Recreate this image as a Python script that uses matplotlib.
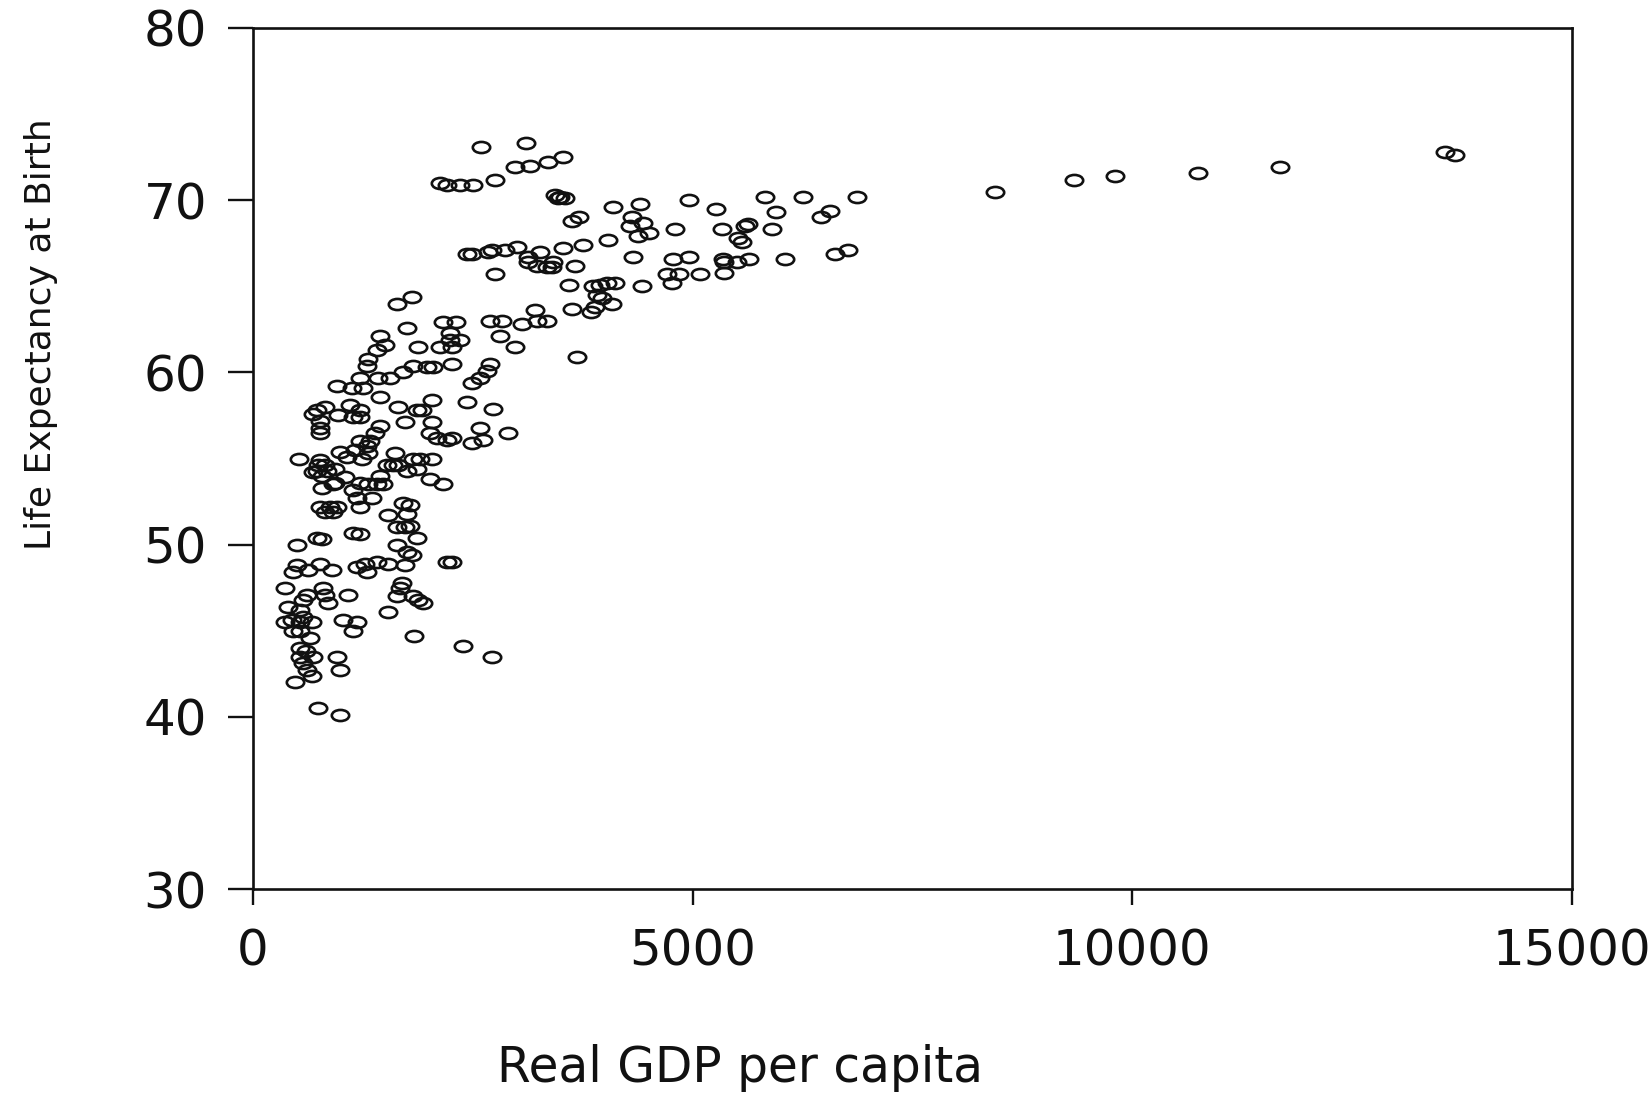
import matplotlib
matplotlib.use("Agg")
import matplotlib.pyplot as plt
from matplotlib.path import Path
from matplotlib.markers import MarkerStyle
from matplotlib.transforms import Affine2D

# ---------------- data ----------------
gdp_per_capita = [
    2593, 3105, 3355, 2979, 3150, 2127, 2206, 2354, 2502, 2752,
    2434, 2490, 2672, 2718, 2866, 3002, 3264, 3127, 3127, 3230, 3343, 2752,
    1808, 1638, 1751, 2161, 2309, 2240, 2240, 2354, 2127, 2263, 2695, 2832, 3059, 3207, 3230, 3343, 2809, 2979, 1876,
    1444, 1501, 1410, 1308, 1296, 1217, 955, 1126, 1251, 1422, 1558, 1706, 1820, 1979, 2047, 2263, 2695, 2661, 2581, 2490,
    1444, 1649, 2036, 1865, 1922, 2434, 2729, 728, 819, 1103, 1217, 682, 967, 1217,
    762, 762, 762, 1137, 1729, 1444, 1387, 1331, 1217, 1296, 1308, 1240, 1160, 989, 1069,
    2036, 2013, 2092, 2206, 2263, 2581, 2616, 2490, 2900,
    523, 762, 728, 785, 842, 682, 933, 1046, 933, 785, 910,
    1615, 1820, 1899, 2036, 1524, 1592, 1649, 1751, 1865, 1444, 1217, 1308, 1410, 1478, 1137, 1183, 1353, 1217, 2013, 2161,
    762, 876, 955, 819, 910, 1706, 1785, 1751, 1535, 1638, 1729, 1785, 1137, 1217, 728, 785, 500, 1865, 1638, 1751, 1808,
    500, 455, 364, 625, 762, 898, 1183, 1274, 1296, 1410, 1535, 1729, 2206, 2263, 1694, 1672, 1638, 1820, 1876, 1933,
    796, 819, 853, 614, 569, 1080, 398, 534, 569, 444, 364, 534, 671, 455, 534, 648, 1023, 1183, 1137, 1535, 1831, 2388, 2718,
    534, 534, 569, 682, 955, 614, 671, 478, 989, 739, 989,
    739, 819, 600,
    3525, 3434, 3468, 3491, 3548, 4094, 4401, 4958, 5265, 5822, 6255, 6460, 5948, 3707, 3628, 4310, 4287, 4435, 4503, 4378,
    4799, 5333, 5629, 5595, 5902, 5515, 5561, 4037, 3753, 3525,
    3412, 3400, 3662, 4321, 4776, 4958, 5344, 5356, 5504, 5640, 6050,
    3594, 3866, 3946, 4026, 4117, 3912, 3969, 4083, 3844, 3889, 3628, 4424, 4708, 4844, 4765, 5083, 5356, 3685,
    6562, 6869, 6619, 6766,
    8438, 9336, 9803, 10747, 11679, 13555, 13669,
]

life_expectancy = [
    73.1, 73.3, 72.2, 71.9, 72.0, 71.0, 70.9, 70.9, 70.9, 71.2,
    66.9, 66.9, 67.0, 67.1, 67.1, 67.3, 67.0, 66.7, 66.4, 66.2, 66.1, 65.7,
    64.4, 64.0, 62.6, 62.9, 62.9, 62.3, 61.9, 61.9, 61.5, 61.5, 63.0, 63.0, 62.8, 63.6, 63.0, 63.0, 62.1, 61.5, 61.5,
    62.1, 61.6, 61.3, 60.8, 60.4, 59.7, 59.2, 59.1, 59.1, 59.7, 59.7, 60.0, 60.4, 60.3, 60.3, 60.5, 60.5, 60.1, 59.7, 59.4,
    58.6, 58.0, 58.4, 57.8, 57.8, 58.3, 57.9, 57.8, 58.0, 58.1, 57.8, 57.6, 57.5, 57.4,
    57.2, 56.8, 56.5, 57.4, 57.1, 56.9, 56.5, 56.0, 56.0, 55.7, 55.3, 55.0, 55.5, 55.4, 55.1,
    57.1, 56.5, 56.2, 56.1, 56.2, 56.8, 56.1, 55.9, 56.5,
    55.0, 54.9, 54.3, 54.0, 54.3, 54.2, 54.4, 53.9, 53.6, 53.3, 53.5,
    55.3, 55.0, 55.0, 55.0, 54.6, 54.6, 54.6, 54.3, 54.4, 54.0, 53.6, 53.5, 53.5, 53.5, 53.2, 52.7, 52.7, 52.2, 53.8, 53.5,
    52.2, 52.2, 52.2, 51.9, 51.9, 52.4, 52.3, 51.8, 51.7, 51.0, 51.0, 51.1, 50.7, 50.6, 50.4, 50.3, 50.0, 50.4, 50.0, 49.6, 49.4,
    48.8, 48.4, 47.5, 48.5, 48.9, 48.5, 48.7, 48.9, 48.4, 49.0, 48.9, 48.8, 49.0, 49.0, 47.8, 47.5, 47.0, 47.0, 46.8, 46.6,
    47.5, 47.1, 46.6, 47.1, 46.8, 47.1, 46.4, 46.2, 45.8, 45.6, 45.5, 45.5, 45.5, 45.0, 45.0, 44.6, 45.6, 45.5, 45.0, 46.1, 44.7, 44.1, 43.5,
    44.0, 43.5, 43.1, 43.5, 43.5, 42.7, 42.4, 42.0, 42.7, 40.5, 40.1,
    54.6, 54.6, 43.8,
    72.5, 70.3, 70.1, 70.2, 70.1, 69.6, 69.8, 70.0, 69.5, 70.2, 70.2, 69.0, 69.3, 69.0, 68.8, 69.0, 68.5, 68.7, 68.1, 67.9,
    68.3, 68.3, 68.6, 68.5, 68.3, 67.8, 67.6, 67.7, 67.4, 67.2,
    66.4, 66.1, 66.2, 66.7, 66.6, 66.7, 66.6, 66.4, 66.4, 66.6, 66.6,
    65.1, 65.0, 65.1, 65.2, 65.2, 64.5, 64.3, 64.0, 63.5, 63.8, 63.7, 65.0, 65.7, 65.7, 65.2, 65.7, 65.8, 60.9,
    69.4, 70.2, 66.9, 67.1,
    70.5, 71.2, 71.4, 71.6, 71.9, 72.8, 72.6,
]

x_ticks = [0, 5000, 10000, 15000]
y_ticks = [30, 40, 50, 60, 70, 80]
x_label = "Real GDP per capita"
y_label = "Life Expectancy at Birth"

# ---------------- figure ----------------
plt.rcParams['font.family'] = ['DejaVu Sans']
fig = plt.figure(figsize=(16.51, 10.93), dpi=100)
ax = fig.add_axes([0.1532, 0.1866, 0.7989, 0.7878])

# elliptical open marker (the scan is stretched horizontally)
ell = Path.unit_circle().transformed(Affine2D().scale(1.0, 0.64))
marker = MarkerStyle(ell)

ax.plot(gdp_per_capita, life_expectancy, linestyle='none', marker=marker,
        markersize=12.5, markerfacecolor='none', markeredgecolor='#111111',
        markeredgewidth=1.9)

ax.set_xlim(0, 15000)
ax.set_ylim(30, 80)
ax.set_xticks(x_ticks)
ax.set_yticks(y_ticks)
ax.set_xticklabels([str(v) for v in x_ticks])
ax.set_yticklabels([str(v) for v in y_ticks])

for s in ax.spines.values():
    s.set_linewidth(1.9)
    s.set_color('#111111')

ax.tick_params(axis='x', direction='out', length=11.5, width=1.7, pad=16,
               labelsize=36, colors='#111111')
ax.tick_params(axis='y', direction='out', length=18, width=1.7, pad=15,
               labelsize=36, colors='#111111')
ax.tick_params(top=False, right=False)

ax.set_xlabel(x_label, fontsize=35, color='#111111')
ax.xaxis.set_label_coords(0.369, -0.18)

ax.set_ylabel(y_label, fontsize=26, color='#111111')
ax.yaxis.label.set_va('center')
ax.yaxis.set_label_coords(-0.161, 0.645)

fig.savefig("out.png", dpi=100, facecolor='white')
